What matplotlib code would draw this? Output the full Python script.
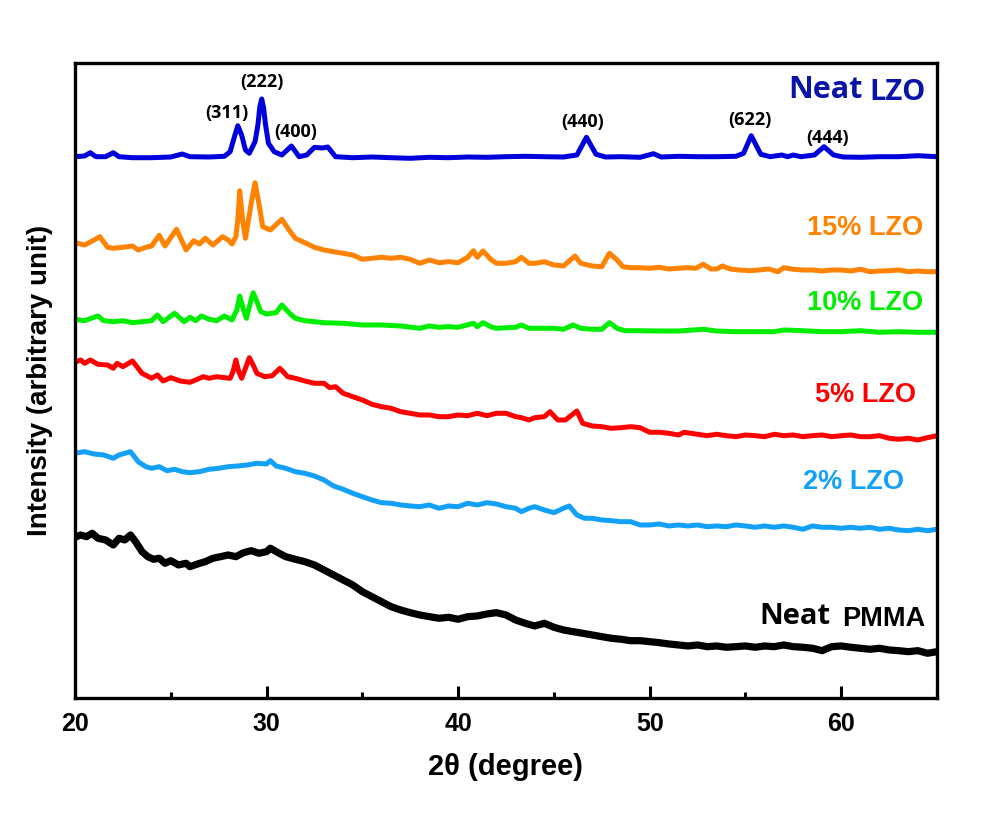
import numpy as np
import matplotlib
matplotlib.use('Agg')
import matplotlib.pyplot as plt
from matplotlib.ticker import MultipleLocator

plt.rcParams['font.family'] = ['Liberation Sans', 'DejaVu Sans']

# XRD patterns (2theta in degree, intensity in arbitrary units, stacked)
tt_lzo = [20.0, 20.5, 20.8, 21.1, 21.6, 22.0, 22.3, 23.0, 24.0, 25.0, 25.6, 26.0, 27.0, 27.8,
          28.1, 28.3, 28.5, 28.7, 28.9, 29.1, 29.4, 29.55, 29.65, 29.75, 29.85, 29.95, 30.1,
          30.4, 30.8, 31.3, 31.7, 32.1, 32.5, 32.9, 33.2, 33.6, 34.5, 35.5, 36.5, 37.5, 38.5,
          39.5, 40.5, 41.5, 42.5, 43.5, 44.5, 45.5, 46.2, 46.7, 47.2, 47.7, 48.5, 49.5, 50.2,
          50.6, 51.5, 52.5, 53.5, 54.5, 54.9, 55.3, 55.8, 56.3, 56.9, 57.2, 57.5, 57.9, 58.6,
          59.1, 59.6, 60.1, 61.0, 62.0, 63.0, 64.0, 65.0]
i_lzo = [543.3, 544.0, 547.3, 543.3, 543.3, 547.3, 543.3, 542.3, 542.3, 543.0, 546.0, 543.3,
         543.0, 543.7, 548.3, 561.7, 574.3, 565.0, 550.0, 546.7, 558.3, 575.0, 593.3, 601.0,
         591.7, 575.0, 556.7, 548.3, 545.0, 554.0, 543.3, 545.0, 552.7, 552.0, 553.0, 543.3,
         542.3, 543.0, 542.3, 541.7, 542.7, 542.3, 543.0, 542.7, 543.3, 543.7, 543.3, 543.0,
         545.0, 562.7, 545.7, 543.0, 543.3, 542.7, 546.3, 543.0, 543.7, 543.3, 543.3, 543.7,
         546.7, 564.3, 545.7, 543.3, 545.0, 543.3, 545.0, 543.3, 545.0, 553.3, 545.0, 543.0,
         542.7, 543.3, 543.3, 544.3, 543.3]

tt_15 = [20.0, 20.5, 21.0, 21.3, 21.7, 22.0, 22.5, 23.0, 23.3, 23.7, 24.0, 24.4, 24.7, 25.3,
         25.8, 26.2, 26.5, 26.8, 27.2, 27.7, 28.0, 28.2, 28.4, 28.5, 28.6, 28.75, 28.9, 29.2,
         29.4, 29.6, 29.8, 30.2, 30.8, 31.2, 31.5, 32.0, 32.5, 33.0, 33.5, 34.0, 34.5, 35.0,
         35.5, 36.0, 36.5, 37.0, 37.5, 38.0, 38.5, 39.0, 39.5, 40.0, 40.5, 40.8, 41.0, 41.3,
         41.7, 42.0, 42.5, 43.0, 43.3, 43.7, 44.0, 44.5, 45.0, 45.5, 46.1, 46.4, 47.0, 47.5,
         47.9, 48.3, 48.6, 49.0, 49.5, 50.0, 50.5, 51.0, 51.5, 52.0, 52.4, 52.8, 53.2, 53.5,
         53.8, 54.2, 54.7, 55.2, 55.7, 56.2, 56.7, 57.0, 57.5, 58.0, 58.5, 59.0, 59.5, 60.0,
         60.5, 61.0, 61.5, 62.0, 62.5, 63.0, 63.5, 64.0, 64.5, 65.0]
i_15 = [457.3, 455.0, 460.0, 463.3, 452.7, 451.7, 452.7, 454.0, 450.0, 452.7, 454.0, 464.7,
        454.0, 470.7, 450.0, 459.3, 456.0, 461.7, 455.0, 463.3, 460.0, 456.0, 463.3, 480.0,
        509.3, 480.0, 461.7, 496.7, 517.3, 496.7, 473.3, 470.0, 480.7, 469.3, 461.7, 457.3,
        452.7, 450.0, 448.3, 446.7, 445.0, 440.7, 441.7, 442.7, 441.7, 442.7, 440.7, 436.7,
        440.0, 437.3, 438.3, 437.3, 442.7, 449.3, 442.7, 449.0, 440.7, 436.7, 436.7, 438.3,
        442.7, 436.7, 436.7, 438.3, 435.0, 434.0, 444.0, 436.7, 434.0, 433.3, 446.7, 440.0,
        433.3, 432.3, 432.3, 431.7, 432.7, 431.0, 431.7, 432.3, 431.7, 435.7, 431.0, 431.0,
        434.0, 431.0, 430.0, 429.3, 430.0, 431.0, 428.3, 432.3, 430.7, 430.0, 430.0, 429.0,
        430.0, 430.0, 429.0, 430.7, 428.3, 429.0, 429.3, 430.0, 428.3, 429.0, 428.3, 428.3]

tt_10 = [20.0, 20.5, 21.2, 21.5, 22.0, 22.5, 23.0, 23.5, 24.0, 24.3, 24.6, 25.2, 25.7, 26.0,
         26.3, 26.6, 27.0, 27.4, 27.8, 28.2, 28.45, 28.6, 28.8, 28.95, 29.15, 29.3, 29.5, 29.7,
         30.0, 30.5, 30.8, 31.2, 31.5, 32.0, 33.0, 34.0, 35.0, 36.0, 37.0, 38.0, 38.5, 39.0,
         39.5, 40.0, 40.8, 41.0, 41.3, 41.7, 42.0, 43.0, 43.3, 43.7, 44.5, 45.0, 45.5, 46.0,
         46.4, 47.0, 47.5, 47.9, 48.3, 48.7, 49.5, 50.5, 51.5, 52.8, 53.5, 54.5, 55.5, 56.5,
         57.0, 58.0, 59.0, 60.0, 61.0, 62.0, 63.0, 64.0, 65.0]
i_10 = [380.7, 379.3, 384.0, 379.3, 378.3, 379.3, 377.3, 378.3, 379.3, 385.0, 378.3, 386.7,
        378.3, 382.7, 379.3, 384.0, 380.7, 379.3, 384.0, 380.0, 390.0, 404.0, 390.0, 381.7,
        396.7, 407.3, 398.3, 388.3, 386.0, 387.3, 395.0, 386.7, 381.7, 379.3, 377.3, 376.7,
        375.0, 375.0, 374.0, 371.7, 374.0, 372.7, 373.3, 372.7, 376.7, 373.3, 377.3, 373.3,
        371.7, 372.7, 375.0, 371.7, 371.7, 371.7, 370.7, 375.0, 371.7, 370.7, 370.7, 377.3,
        371.7, 369.3, 369.3, 369.0, 369.0, 370.7, 369.0, 368.3, 368.3, 368.3, 370.0, 369.3,
        368.3, 368.3, 369.3, 367.7, 368.3, 367.7, 367.7]

tt_5 = [20.0, 20.3, 20.5, 20.8, 21.2, 21.7, 22.0, 22.2, 22.5, 23.0, 23.5, 24.0, 24.3, 24.6,
        25.0, 25.5, 26.0, 26.3, 26.7, 27.0, 27.4, 27.8, 28.1, 28.25, 28.4, 28.55, 28.7, 28.9,
        29.1, 29.3, 29.5, 29.9, 30.3, 30.7, 31.1, 31.5, 32.0, 32.5, 33.0, 33.3, 33.6, 34.0,
        34.5, 35.0, 35.5, 36.0, 36.5, 37.0, 37.5, 38.0, 38.5, 39.0, 39.5, 40.0, 40.5, 41.0,
        41.5, 42.0, 42.5, 43.0, 43.3, 43.7, 44.0, 44.5, 44.8, 45.2, 45.6, 46.2, 46.5, 47.0,
        47.5, 48.0, 48.5, 49.0, 49.5, 50.0, 50.5, 51.0, 51.5, 51.8, 52.5, 53.0, 53.5, 54.0,
        54.5, 55.0, 55.5, 56.0, 56.5, 57.0, 57.5, 58.0, 58.5, 59.0, 59.5, 60.0, 60.5, 61.0,
        61.5, 62.0, 62.5, 63.0, 63.5, 64.0, 64.5, 65.0]
i_5 = [337.7, 340.0, 336.7, 340.0, 335.7, 335.0, 331.7, 336.7, 333.3, 339.0, 326.7, 321.7,
       325.0, 319.0, 322.3, 319.0, 317.7, 320.0, 323.3, 321.7, 323.3, 322.3, 321.7, 328.3,
       340.0, 328.3, 321.7, 331.7, 342.3, 335.0, 326.7, 323.3, 324.3, 331.7, 323.3, 321.7,
       319.0, 316.7, 316.7, 312.3, 313.3, 306.7, 303.3, 300.0, 295.7, 293.3, 291.7, 288.3,
       286.7, 285.0, 285.0, 283.3, 283.3, 285.0, 284.3, 286.7, 284.3, 286.7, 286.7, 283.3,
       282.3, 280.0, 282.3, 283.3, 288.3, 280.0, 280.0, 289.0, 276.7, 274.0, 273.3, 271.7,
       272.3, 273.3, 272.3, 267.7, 267.7, 266.7, 265.0, 267.7, 265.7, 264.3, 265.7, 264.3,
       263.3, 265.0, 264.3, 263.3, 265.7, 264.3, 265.0, 263.3, 264.3, 265.0, 263.3, 264.3,
       265.0, 263.3, 263.3, 264.3, 261.7, 260.7, 261.7, 260.0, 262.3, 264.3]

tt_2 = [20.0, 20.5, 21.0, 21.5, 22.0, 22.3, 22.9, 23.3, 23.7, 24.0, 24.4, 24.8, 25.2, 25.6,
        26.0, 26.5, 27.0, 27.5, 28.0, 28.5, 29.0, 29.5, 30.0, 30.2, 30.5, 31.0, 31.5, 32.0,
        32.5, 33.0, 33.5, 34.0, 34.5, 35.0, 35.5, 36.0, 36.5, 37.0, 37.5, 38.0, 38.5, 39.0,
        39.5, 40.0, 40.5, 41.0, 41.5, 42.0, 42.5, 43.0, 43.3, 43.7, 44.0, 44.5, 45.0, 45.5,
        45.8, 46.2, 46.6, 47.0, 47.5, 48.0, 48.5, 49.0, 49.5, 50.0, 50.5, 51.0, 51.5, 52.0,
        52.5, 53.0, 53.5, 54.0, 54.5, 55.0, 55.5, 56.0, 56.5, 57.0, 57.5, 58.0, 58.5, 59.0,
        59.5, 60.0, 60.5, 61.0, 61.5, 62.0, 62.5, 63.0, 63.5, 64.0, 64.5, 65.0]
i_2 = [246.7, 248.3, 246.0, 245.0, 241.7, 245.0, 248.3, 238.3, 233.3, 231.7, 233.3, 229.3,
       230.7, 228.3, 227.3, 228.3, 230.7, 231.7, 233.3, 234.0, 235.0, 236.7, 236.0, 239.3,
       234.0, 231.7, 228.3, 226.7, 224.0, 220.0, 214.0, 210.7, 206.7, 203.3, 200.0, 197.3,
       196.7, 195.0, 194.0, 193.3, 195.0, 191.7, 194.0, 193.3, 196.7, 195.0, 197.3, 196.0,
       193.3, 191.7, 188.3, 191.7, 193.3, 190.0, 187.3, 191.7, 194.0, 185.0, 181.7, 181.7,
       180.0, 179.3, 178.3, 178.3, 175.0, 175.0, 176.0, 174.0, 175.0, 174.0, 175.0, 173.3,
       174.0, 173.3, 175.0, 174.0, 172.7, 174.0, 172.7, 174.0, 172.7, 170.7, 174.0, 172.7,
       172.7, 171.7, 172.7, 171.7, 172.7, 170.7, 171.7, 170.0, 169.3, 170.7, 169.3, 170.7]

tt_pmma = [20.0, 20.3, 20.6, 20.9, 21.2, 21.6, 22.0, 22.3, 22.6, 22.9, 23.2, 23.5, 23.8, 24.1,
           24.4, 24.7, 25.0, 25.4, 25.8, 26.0, 26.4, 26.8, 27.2, 27.6, 28.0, 28.4, 28.8, 29.2,
           29.6, 30.0, 30.2, 30.6, 31.0, 31.5, 32.0, 32.5, 33.0, 33.5, 34.0, 34.5, 35.0, 35.5,
           36.0, 36.5, 37.0, 37.5, 38.0, 38.5, 39.0, 39.5, 40.0, 40.5, 41.0, 41.5, 42.0, 42.5,
           43.0, 43.5, 44.0, 44.5, 45.0, 45.5, 46.0, 46.5, 47.0, 47.5, 48.0, 48.5, 49.0, 49.5,
           50.0, 50.5, 51.0, 51.5, 52.0, 52.5, 53.0, 53.5, 54.0, 54.5, 55.0, 55.5, 56.0, 56.5,
           57.0, 57.5, 58.0, 58.5, 59.0, 59.5, 60.0, 60.5, 61.0, 61.5, 62.0, 62.5, 63.0, 63.5,
           64.0, 64.5, 65.0]
i_pmma = [162.7, 165.0, 163.3, 166.7, 161.7, 160.0, 155.0, 161.7, 160.0, 165.0, 157.3, 148.3,
          143.3, 140.7, 141.7, 136.7, 139.3, 135.0, 136.7, 133.3, 136.0, 138.3, 141.7, 143.3,
          145.0, 143.3, 147.3, 149.3, 146.7, 148.3, 151.7, 147.3, 143.3, 140.7, 138.3, 135.0,
          130.0, 125.0, 120.0, 115.0, 108.3, 103.3, 98.3, 93.3, 90.0, 87.3, 85.0, 83.3, 81.7,
          82.7, 80.7, 83.3, 84.0, 86.0, 87.3, 85.0, 80.0, 76.7, 74.0, 76.7, 72.7, 70.0, 68.3,
          66.7, 65.0, 63.3, 61.7, 60.7, 59.3, 59.3, 58.3, 57.3, 56.0, 55.0, 54.0, 55.0, 53.3,
          54.0, 52.7, 53.3, 54.0, 52.7, 54.0, 53.3, 55.0, 53.3, 52.7, 51.7, 49.3, 53.3, 54.0,
          52.7, 51.7, 50.7, 51.7, 50.0, 49.3, 48.3, 49.3, 46.7, 48.3]

# Miller indices of the neat LZO peaks and where their labels sit
hkl = ['(311)', '(222)', '(400)', '(440)', '(622)', '(444)']
hkl_x = [27.93, 29.76, 31.53, 46.51, 55.23, 59.3]
hkl_y = [587, 618, 568, 578, 580, 562]

fig = plt.figure(figsize=(9.85, 8.13), dpi=100)
ax = fig.add_axes([0.0761, 0.1415, 0.8752, 0.781])

ax.plot(tt_pmma, i_pmma, color='black', lw=5.2, solid_joinstyle='round')
ax.plot(tt_2, i_2, color='#12a0f8', lw=3.6, solid_joinstyle='round')
ax.plot(tt_5, i_5, color='#ff0000', lw=3.6, solid_joinstyle='round')
ax.plot(tt_10, i_10, color='#00ee00', lw=3.6, solid_joinstyle='round')
ax.plot(tt_15, i_15, color='#ff8200', lw=3.6, solid_joinstyle='round')
ax.plot(tt_lzo, i_lzo, color='#0000dd', lw=3.6, solid_joinstyle='round')

for lab, x, y in zip(hkl, hkl_x, hkl_y):
    ax.text(x, y, lab, ha='center', va='center', fontsize=13, fontweight='bold',
            family='Open Sans')

# sample labels
ax.text(61.1, 610, 'Neat', ha='right', va='center', fontsize=22, fontweight='bold',
        color='#0a14a8', family='Open Sans')
ax.text(64.4, 608, 'LZO', ha='right', va='center', fontsize=21, fontweight='bold',
        color='#0a14a8', family='Open Sans')
ax.text(64.26, 472, '15% LZO', ha='right', va='center', fontsize=19.5, fontweight='bold',
        color='#ff8200')
ax.text(64.26, 397, '10% LZO', ha='right', va='center', fontsize=19.5, fontweight='bold',
        color='#00ee00')
ax.text(63.9, 305, '5% LZO', ha='right', va='center', fontsize=19.5, fontweight='bold',
        color='#ff0000')
ax.text(63.3, 218, '2% LZO', ha='right', va='center', fontsize=19.5, fontweight='bold',
        color='#12a0f8')
ax.text(59.45, 83, 'Neat', ha='right', va='center', fontsize=21, fontweight='bold',
        color='black', family='Open Sans')
ax.text(64.4, 81, 'PMMA', ha='right', va='center', fontsize=19.5, fontweight='bold',
        color='black')

ax.set_xlim(20, 65)
ax.set_ylim(2, 637)
ax.xaxis.set_major_locator(MultipleLocator(10))
ax.xaxis.set_minor_locator(MultipleLocator(5))
ax.tick_params(axis='x', which='major', direction='in', length=8.5, width=2.2,
               labelsize=18, pad=10)
ax.tick_params(axis='x', which='minor', direction='in', length=4.5, width=2.2)
ax.tick_params(axis='y', left=False, labelleft=False)
for lab in ax.get_xticklabels():
    lab.set_fontweight('bold')
for sp in ax.spines.values():
    sp.set_linewidth(2.4)

ax.set_xlabel('2\u03b8 (degree)', fontsize=21, fontweight='bold', labelpad=12)
ax.set_ylabel('Intensity (arbitrary unit)', fontsize=20, fontweight='bold', labelpad=16)

fig.savefig('out.png', dpi=100, facecolor='white')
